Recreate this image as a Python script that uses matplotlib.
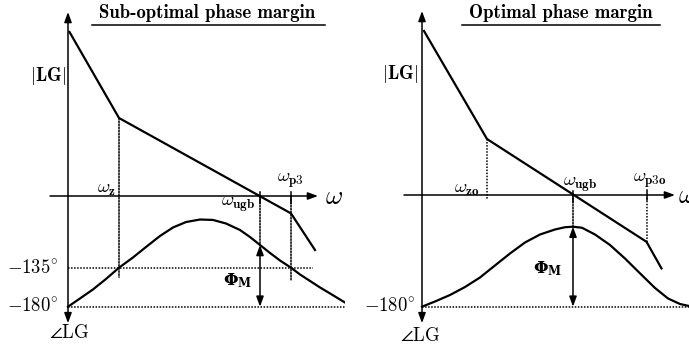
import numpy as np
import matplotlib
matplotlib.use("Agg")
import matplotlib.pyplot as plt

plt.rcParams['mathtext.fontset'] = 'cm'

# ---- data (x in decades from the |LG| axis, magnitude in dB, phase in deg) ----
# sub-optimal case
sub_mag_w = [0.03, 1.02, 4.46, 4.94]
sub_mag_db = [82, 39, -8.7, -27]
sub_ph_w = [0.0, 0.24, 0.5, 0.76, 1.02, 1.3, 1.56, 1.84, 2.1, 2.36, 2.64, 2.9,
            3.16, 3.44, 3.64, 3.84, 4.04, 4.24, 4.46, 4.64, 4.84, 5.04, 5.24, 5.54]
sub_ph_deg = [-180, -170.5, -160.1, -148.0, -135, -123.2, -111.1, -98.4, -88.6,
              -82.3, -79.4, -79.9, -84.0, -91.5, -99.6, -108.8, -118.0, -126.7,
              -135, -142.8, -150.3, -157.8, -164.7, -175.2]
sub_wz, sub_wugb, sub_wp3 = 1.02, 3.84, 4.46

# optimal case
opt_mag_w = [0.04, 1.3, 4.49, 4.79]
opt_mag_db = [82, 28, -23.4, -36.7]
opt_ph_w = [0.0, 0.26, 0.56, 0.86, 1.16, 1.46, 1.76, 2.06, 2.36, 2.66, 2.86,
            3.02, 3.2, 3.46, 3.76, 4.06, 4.36, 4.66, 4.92, 5.16, 5.34]
opt_ph_deg = [-180, -174.0, -166.5, -157.3, -146.3, -132.4, -118.6, -105.9, -96.7,
              -90.9, -88.3, -87.7, -88.9, -96.7, -108.8, -124.4, -141.5, -158.4,
              -170.5, -176.9, -179.2]
opt_wz, opt_wugb, opt_wp3 = 1.3, 3.02, 4.49

W, H = 689, 345
fig = plt.figure(figsize=(W / 100, H / 100), dpi=100)

LW = 1.6
AX_LW = 1.1
DOT = dict(color='k', lw=1.1, linestyle=(0, (1, 1)))
FS = 13.5


def arrow(ax_from, p_from, ax_to, p_to, style='-|>', lw=AX_LW):
    ax_to.annotate('', xy=p_to, xycoords=ax_to.transData,
                   xytext=p_from, textcoords=ax_from.transData,
                   arrowprops=dict(arrowstyle=style + ',head_length=0.6,head_width=0.22',
                                   mutation_scale=10, lw=lw, color='k',
                                   shrinkA=0, shrinkB=0))


def link(ax_a, p_a, ax_b, p_b, **kw):
    # plain (usually dotted) segment between magnitude and phase coordinates
    ax_b.annotate('', xy=p_b, xycoords=ax_b.transData,
                  xytext=p_a, textcoords=ax_a.transData,
                  arrowprops=dict(arrowstyle='-', shrinkA=0, shrinkB=0, **kw))


def panel(rect, xlim, dblim, mag_w, mag_db, ph_w, ph_deg, wz, wugb, wp3,
          ph_at_ugb, labels, title, title_x, ul, optimal):
    ax = fig.add_axes(rect)
    axp = ax.twinx()
    for a in (ax, axp):
        a.set_axis_off()
        a.set_xlim(*xlim)
    ax.set_ylim(*dblim)
    axp.set_ylim(-224.2, 173.9)

    # axes
    arrow(axp, (0, -199), ax, (0, 92), style='<|-|>')
    arrow(ax, (-0.36, 0), ax, (5.0 if not optimal else 5.06, 0))

    # reference phase lines
    axp.plot([0, xlim[1]], [-180, -180], **DOT)
    if not optimal:
        axp.plot([0, 4.9], [-135, -135], **DOT)

    # magnitude and phase
    ax.plot(mag_w, mag_db, color='k', lw=LW, solid_joinstyle='miter')
    axp.plot(ph_w, ph_deg, color='k', lw=LW, solid_joinstyle='round')

    # frequency markers
    mag_z = float(np.interp(wz, mag_w, mag_db))
    mag_p3 = float(np.interp(wp3, mag_w, mag_db))
    if optimal:
        ax.plot([wz, wz], [mag_z, -2.5], **DOT)
        ax.plot([wp3, wp3], [mag_p3, 0], **DOT)
        ax.plot([wp3, wp3], [2.5, -2.5], color='k', lw=AX_LW)
    else:
        link(ax, (wz, mag_z), axp, (wz, -146), **DOT)
        link(ax, (wp3, 0), axp, (wp3, -149), **DOT)
        ax.plot([wp3, wp3], [2.2, -3.5], color='k', lw=AX_LW)
    link(ax, (wugb, 0), axp, (wugb, ph_at_ugb), **DOT)
    ax.plot([wugb, wugb], [2.2, -3.5], color='k', lw=AX_LW)

    # phase margin
    arrow(axp, (wugb, -180), axp, (wugb, ph_at_ugb), style='<|-|>')

    for (x, y, s, on_phase, ha, size) in labels:
        a = axp if on_phase else ax
        a.text(x, y, s, ha=ha, va='center', fontsize=size)

    ax.text(title_x, 1 - 18 / H, title, transform=ax.transAxes, ha='center',
            va='baseline', family='cmb10', fontsize=13.5)
    ax.plot(ul, [1 - 25 / H] * 2, color='k', lw=1.1, transform=ax.transAxes)
    return ax, axp


def phase_margin_label(axp, x, y):
    axp.text(x, y, r'$\mathbf{\Phi_M}$', ha='center', va='center',
             fontsize=12, math_fontfamily='dejavuserif')


sub_labels = [
    (-0.4, 60, r'$|\mathbf{LG}|$', False, 'center', FS),
    (0.76, 4, r'$\omega_{\mathbf{z}}$', False, 'center', FS),
    (3.4, -4, r'$\omega_{\mathbf{ugb}}$', False, 'center', FS),
    (4.44, 7.5, r'$\omega_{\mathbf{p3}}$', False, 'center', FS),
    (5.14, -0.5, r'$\omega$', False, 'left', 19),
    (-0.2, -135, r'$-135^{\circ}$', True, 'right', FS),
    (-0.2, -179, r'$-180^{\circ}$', True, 'right', FS),
    (0.02, -210, r'$\angle\mathrm{LG}$', True, 'center', FS),
]
opt_labels = [
    (-0.44, 60.5, r'$|\mathbf{LG}|$', False, 'center', FS),
    (0.9, 3.5, r'$\omega_{\mathbf{zo}}$', False, 'center', FS),
    (3.16, 5.5, r'$\omega_{\mathbf{ugb}}$', False, 'center', FS),
    (4.56, 7, r'$\omega_{\mathbf{p3o}}$', False, 'center', FS),
    (5.12, -0.5, r'$\omega$', False, 'left', 19),
    (-0.14, -179, r'$-180^{\circ}$', True, 'right', FS),
    (-0.04, -213, r'$\angle\mathrm{LG}$', True, 'center', FS),
]

_, axp_sub = panel([0, 0, 345 / W, 1], (-1.36, 5.54), (-74.5, 98),
                   sub_mag_w, sub_mag_db, sub_ph_w, sub_ph_deg,
                   sub_wz, sub_wugb, sub_wp3, -108.8, sub_labels,
                   'Sub-optimal phase margin', 207 / 345,
                   [92 / 345, 325 / 345], optimal=False)
phase_margin_label(axp_sub, 3.4, -150.3)

_, axp_opt = panel([345 / W, 0, 344 / W, 1], (-1.54, 5.34), (-75, 97.5),
                   opt_mag_w, opt_mag_db, opt_ph_w, opt_ph_deg,
                   opt_wz, opt_wugb, opt_wp3, -87.7, opt_labels,
                   'Optimal phase margin', (561 - 345) / 344,
                   [(462 - 345) / 344, (660 - 345) / 344], optimal=True)
phase_margin_label(axp_opt, 2.52, -136.5)

fig.savefig('out.png', dpi=100)
